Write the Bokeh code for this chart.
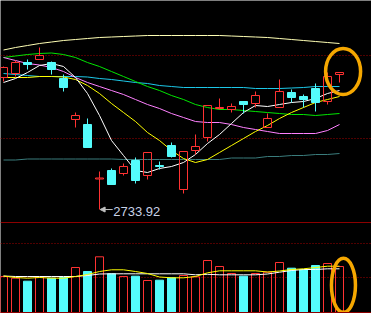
from bokeh.plotting import figure
from bokeh.models import Range1d, Span, Arrow, NormalHead
from bokeh.embed import file_html
from bokeh.resources import INLINE
from bokeh.core.properties import value

# ---------------- data ----------------
open_ = [2998, 3006, 3028, 3034, 3028, 2996, 2914, 2904, 2795, 2812, 2806, 2832, 2802, 2822, 2862,
         2774, 2852, 2878, 2936, 2934, 2950, 2946, 2898, 2938, 2968, 2960, 2976, 2950, 3004]
high = [3020, 3032, 3034, 3058, 3030, 3004, 2928, 2916, 2810, 2816, 2826, 2838, 2848, 2830, 2868,
        2850, 2884, 2942, 2956, 2946, 2950, 2970, 2926, 2994, 2974, 2964, 2986, 3008, 3008]
low = [2990, 3000, 3014, 3034, 3004, 2970, 2898, 2858, 2733.92, 2784, 2802, 2786, 2794, 2814, 2838,
       2766, 2844, 2870, 2934, 2928, 2926, 2938, 2898, 2938, 2948, 2938, 2930, 2944, 2988]
close = [3018, 3028, 3024, 3042, 3014, 2978, 2922, 2858, 2797, 2784, 2820, 2792, 2848, 2820, 2840,
         2850, 2860, 2942, 2938, 2940, 2944, 2962, 2916, 2970, 2958, 2954, 2948, 3000, 3008]

ma5 = [2988, 2996, 3008, 3022, 3026, 3020, 2998, 2966, 2922, 2872, 2842, 2812, 2808, 2816, 2820,
       2828, 2844, 2866, 2884, 2906, 2928, 2942, 2940, 2944, 2948, 2950, 2956, 2966, 2972]
ma10 = [2998, 2998, 2998, 3000, 3000, 2999, 2994, 2982, 2966, 2946, 2928, 2910, 2888, 2872, 2852,
        2836, 2828, 2834, 2848, 2862, 2876, 2890, 2902, 2916, 2928, 2938, 2948, 2954, 2960]
ma20 = [3038, 3032, 3026, 3023, 3018, 3010, 2998, 2988, 2980, 2972, 2964, 2954, 2944, 2936, 2926,
        2918, 2910, 2908, 2908, 2904, 2898, 2894, 2890, 2886, 2886, 2886, 2886, 2892, 2904]
ma30 = [3038, 3041, 3044, 3046, 3047, 3044, 3038, 3028, 3020, 3010, 3000, 2990, 2980, 2972, 2962,
        2954, 2944, 2938, 2934, 2934, 2932, 2930, 2928, 2926, 2924, 2924, 2922, 2924, 2926]
ma60 = [3006, 3004, 3002, 3000, 3000, 3000, 3000, 2999, 2996, 2994, 2991, 2988, 2986, 2982, 2980,
        2978, 2978, 2978, 2978, 2978, 2978, 2976, 2976, 2976, 2977, 2978, 2980, 2980, 2980]
ma120 = [3053, 3058, 3062, 3066, 3069, 3072, 3074, 3076, 3078, 3079, 3080, 3081, 3082, 3082, 3082,
         3082, 3082, 3082, 3082, 3081, 3080, 3079, 3078, 3076, 3074, 3072, 3070, 3068, 3066]
ma250 = [2833, 2833, 2835, 2835, 2835, 2835, 2835, 2835, 2835, 2835, 2834, 2834, 2834, 2834, 2834,
         2834, 2834, 2834, 2834, 2837, 2837, 2837, 2840, 2840, 2842, 2842, 2844, 2844, 2846]

vol = [1800, 1715, 1565, 1765, 1715, 1750, 2250, 2050, 2785, 1935, 1800, 1815, 1600, 1615, 1735,
       1850, 1785, 2600, 2300, 1950, 1815, 1950, 2015, 2500, 2215, 2150, 2350, 2450, 2300]
vol_ma5 = [1825, 1750, 1715, 1750, 1715, 1715, 1800, 1900, 2050, 2135, 2135, 2050, 1950, 1775, 1735,
           1735, 1800, 1985, 2085, 2085, 2085, 2085, 2025, 2075, 2150, 2185, 2250, 2315, 2315]
vol_ma10 = [1825, 1800, 1800, 1800, 1800, 1800, 1800, 1850, 1925, 1935, 1935, 1935, 1935, 1935, 1935,
            1935, 1885, 1910, 1885, 1885, 1885, 1885, 1925, 2015, 2100, 2150, 2150, 2185, 2185]

price_levels = [3042, 2876]     # dotted guide lines, price panel
vol_levels = [3450, 1750]       # dotted guide lines, volume panel

# ---------------- styling ----------------
RED = "#FF3232"
CYAN = "#54FCFC"
ORANGE = "#F5A700"
DOT = "#A00000"
SEP = "#8C0000"

n = len(close)
idx = list(range(n))
up = [c >= o for o, c in zip(open_, close)]

W, H = 371, 313
x0 = -3 / 12
p = figure(width=W, height=H, output_backend="svg", toolbar_location=None,
           x_range=Range1d(x0, x0 + W / 12), y_range=Range1d(2526, 3152),
           x_axis_type=None, y_axis_type=None, min_border=0,
           background_fill_color="black", border_fill_color="black", outline_line_color=None)
p.grid.visible = False
p.extra_y_ranges = {"vol": Range1d(-50, 15600)}

# guide lines
for lv in price_levels:
    p.add_layout(Span(location=lv, dimension="width", line_color=DOT, line_width=1,
                      line_dash="1 2", level="underlay"))
for lv in vol_levels:
    p.add_layout(Span(location=lv, dimension="width", line_color=DOT, line_width=1,
                      line_dash="1 2", level="underlay", y_range_name="vol"))
p.add_layout(Span(location=2708, dimension="width", line_color=SEP, line_width=1))
p.add_layout(Span(location=0, dimension="width", line_color=SEP, line_width=1, y_range_name="vol"))

# moving averages
for series, col in [(ma250, "#3A7C7C"), (ma120, "#FFFFB4"), (ma60, "#1CC8E8"), (ma30, "#00E600"),
                    (ma20, "#FF80FF"), (ma10, "#FFFF00"), (ma5, "#FFFFFF")]:
    p.line(idx, series, line_color=col, line_width=1)

# candles
ui = [i for i in idx if up[i]]
di = [i for i in idx if not up[i]]
# down candles: wick + filled body
p.segment(x0=di, y0=[high[i] for i in di], x1=di, y1=[low[i] for i in di], line_color=CYAN, line_width=1)
p.vbar(x=di, top=[open_[i] for i in di], bottom=[close[i] for i in di], width=8 / 12,
       fill_color=CYAN, line_color=CYAN, line_width=1)
# up candles: wicks outside hollow body
p.segment(x0=ui, y0=[high[i] for i in ui], x1=ui, y1=[close[i] for i in ui], line_color=RED, line_width=1)
p.segment(x0=ui, y0=[open_[i] for i in ui], x1=ui, y1=[low[i] for i in ui], line_color=RED, line_width=1)
p.vbar(x=ui, top=[close[i] for i in ui], bottom=[open_[i] for i in ui], width=8 / 12,
       fill_color=None, line_color=RED, line_width=1)

# lowest price marker
lo_i = low.index(min(low))
lo_v = low[lo_i]
p.add_layout(Arrow(x_start=lo_i + 1.1, y_start=lo_v, x_end=lo_i + 0.05, y_end=lo_v,
                   line_color="#C0C0C0", line_width=1,
                   end=NormalHead(size=5, fill_color="#C0C0C0", line_color="#C0C0C0")))
p.text(x=[lo_i + 1.15], y=[lo_v - 3], text=[f"{lo_v:.2f}"], text_font=value("Liberation Sans"),
       text_font_size=value("13px"), text_baseline="middle", text_align="left", text_color="#C8D2E6")

# volume
p.vbar(x=di, top=[vol[i] for i in di], bottom=0, width=8 / 12, fill_color=CYAN, line_color=CYAN,
       line_width=1, y_range_name="vol")
p.vbar(x=ui, top=[vol[i] for i in ui], bottom=0, width=8 / 12, fill_color=None, line_color=RED,
       line_width=1, y_range_name="vol")
p.line(idx, vol_ma10, line_color="#FFFFFF", line_width=1, y_range_name="vol")
p.line(idx, vol_ma5, line_color="#FFFF00", line_width=1, y_range_name="vol")

# highlight rings around the latest bar
p.ellipse(x=[n - 1 + 0.3], y=[high[-1] + 2], width=35, height=46, width_units="screen",
          height_units="screen", fill_color=None, line_color=ORANGE, line_width=3.5)
p.ellipse(x=[n - 1 + 0.33], y=[vol[-1] * 0.59], width=24, height=54, width_units="screen",
          height_units="screen", fill_color=None, line_color=ORANGE, line_width=3.5, y_range_name="vol")

open("out.html", "w").write(file_html(p, INLINE))
